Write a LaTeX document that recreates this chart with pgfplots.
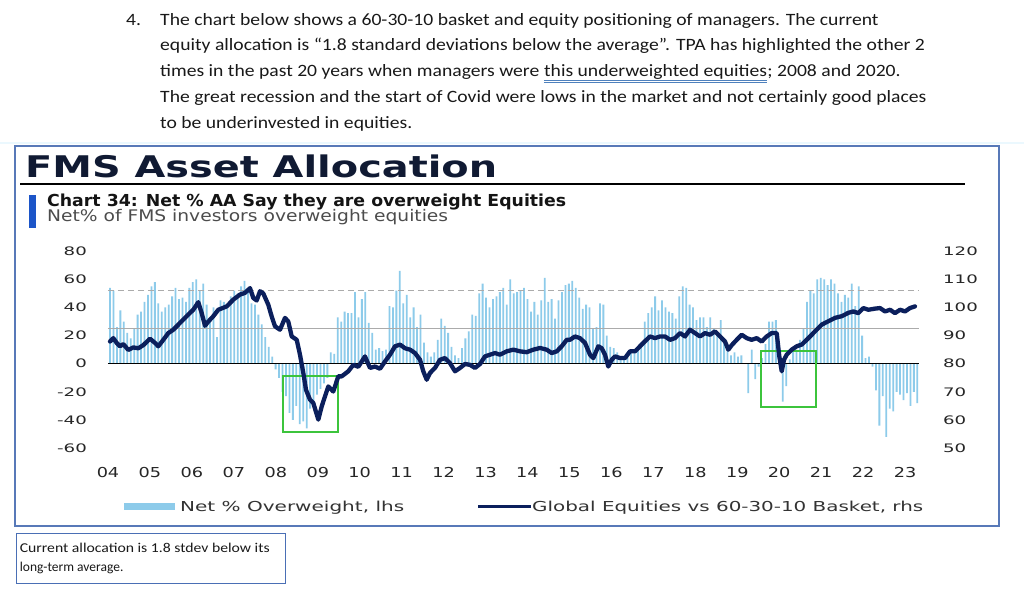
\documentclass[border=0pt]{standalone}
\usepackage{pgfplots}
\pgfplotsset{compat=1.18}
\usepackage{pgfplotstable}
\usepackage{graphicx}
\usepackage{fontspec}
\setmainfont{Carlito}
\newfontfamily\dv{DejaVu Sans}
\definecolor{barblue}{HTML}{8DCBEA}
\definecolor{linenavy}{HTML}{0B1F5C}
\definecolor{boxgreen}{HTML}{3CC43C}
\definecolor{boxblue}{HTML}{5879B8}
\definecolor{capblue}{HTML}{4A6FB5}
\definecolor{ulblue}{HTML}{4F81BD}
\definecolor{accentblue}{HTML}{1C55C8}
\definecolor{titlenavy}{HTML}{101A33}
\definecolor{ticklab}{HTML}{262626}
\definecolor{refgray}{HTML}{ABABAB}
\newcommand{\tl}[1]{\scalebox{1.55}[1]{#1}}
\newcommand{\xl}[1]{\scalebox{1.29}[1]{#1}}
\newcommand{\ps}[1]{\scalebox{1.135}[1]{#1}}

\pgfplotstableread{
m v
0 54
1 52
2 26
3 38
4 30
5 22
6 18
7 25
8 35
9 37
10 44
11 49
12 55
13 58
14 43
15 37
16 40
17 42
18 48
19 54
20 46
21 47
22 44
23 54
24 58
25 60
26 52
27 57
28 42
29 30
30 40
31 19
32 45
33 44
34 41
35 48
36 52
37 50
38 55
39 59
40 52
41 43
42 42
43 35
44 28
45 19
46 12
47 5
48 -4
49 -10
50 -20
51 -23
52 -35
53 -40
54 -30
55 -43
56 -41
57 -46
58 -32
59 -28
60 -22
61 -18
62 -14
63 -10
64 8
65 7
66 33
67 30
68 37
69 36
70 36
71 51
72 33
73 46
74 51
75 29
76 22
77 10
78 11
79 9
80 10
81 41
82 40
83 52
84 66
85 43
86 49
87 33
88 40
89 26
90 35
91 15
92 8
93 5
94 8
95 17
96 32
97 27
98 22
99 12
100 6
101 4
102 11
103 18
104 23
105 35
106 34
107 50
108 57
109 47
110 40
111 46
112 48
113 51
114 54
115 42
116 60
117 50
118 51
119 52
120 54
121 46
122 37
123 44
124 35
125 45
126 61
127 44
128 46
129 32
130 45
131 51
132 56
133 57
134 59
135 54
136 47
137 39
138 42
139 40
140 25
141 26
142 43
143 42
144 20
145 12
146 11
147 8
148 5
149 5
150 6
151 10
152 10
153 10
154 15
155 30
156 36
157 40
158 48
159 38
160 45
161 40
162 37
163 36
164 32
165 48
166 55
167 54
168 42
169 40
170 31
171 33
172 33
173 26
174 33
175 25
176 21
177 31
178 17
179 12
180 6
181 8
182 5
183 6
184 0
185 -21
186 10
187 -11
188 -2
189 4
190 14
191 30
192 30
193 31
194 8
195 -27
196 -16
197 3
198 10
199 10
200 17
201 25
202 44
203 52
204 50
205 60
206 61
207 60
208 56
209 60
210 57
211 50
212 44
213 49
214 47
215 57
216 41
217 55
218 20
219 4
220 5
221 -2
222 -19
223 -44
224 -23
225 -52
226 -32
227 -34
228 -20
229 -22
230 -26
231 -21
232 -30
233 -20
234 -28
}\bars

\pgfplotstableread{
m r
0 87.9
0.96 89.1
1.94 87.4
2.9 86.2
3.86 87
5.3 84.9
6.75 85.8
8.2 85.5
9.65 86.6
11.59 88.9
13.04 87.4
14 86.2
15.45 88.5
16.9 90.9
18.35 92.1
19.8 93.9
21.25 95.7
22.7 97.5
24.14 99.2
25.59 101.9
26.58 98
27.54 93.5
28.49 95
29.94 96.9
31.39 99.2
33.83 100.4
35.74 102.8
37.68 104.6
39.13 105.2
40.58 106.9
41.54 103.4
42.52 102.5
43.48 105.8
44.43 105
45.88 101
46.87 96.8
47.83 93.3
49.28 92.1
50.72 96.3
51.68 95
52.67 89.7
54.12 88.5
55.07 83.2
56.03 76.7
56.81 70.7
57.97 67.2
58.93 66
60.38 60.1
61.36 64.8
62.32 68.4
63.28 71.9
64.72 70.1
66.17 75.5
67.16 75.5
69.07 77.3
70.52 79.6
71.97 78.9
73.91 82.6
75.36 78.5
76.81 79
78.26 78.2
79.71 80.8
81.16 83.2
82.61 86.2
84.06 86.8
85.51 85.5
86.96 85
88.41 83.8
89.86 81.4
90.81 77.3
91.8 74.3
92.75 76.7
94.2 78.5
95.65 81.4
97.1 82
98.55 80.2
100 77.3
101.45 78.5
102.9 79.9
104.35 79.6
105.8 78.5
107.25 79.9
108.7 82.6
110.14 83.2
111.59 83.8
113.04 83.2
114.99 84.4
116.9 85
118.84 84.4
120.78 84.1
122.7 85
124.64 85.6
126.58 85
128.03 83.8
129.48 84.4
130.93 86.2
132.38 88.5
133.33 88.5
134.78 89.7
136.23 89.1
137.68 87.4
139.13 83.2
140.09 82
141.54 86.2
142.52 85.5
143.48 83.2
144.43 79
145.42 81.4
146.38 82.6
147.83 82
149.28 82
150.72 84.4
152.17 84.4
153.62 86.2
155.07 88
156.52 89.7
157.97 89.1
159.42 89.7
160.87 89.7
162.32 88.5
163.77 89.1
165.22 90.9
166.67 89.7
168.12 92.1
169.57 90.9
171.01 89.7
172.46 90.9
173.91 90.3
175.36 91.5
176.81 89.7
178.26 87.9
179.22 85
180.2 86.6
181.65 88.5
183.1 90.3
184.55 89.1
186 88.5
187.45 89.1
188.9 87.9
190.35 89.7
191.8 90.9
193.25 90.9
194 82.6
194.7 77.3
195.36 81.4
196.14 83.2
197.59 85
199.04 86.2
200.49 86.8
201.94 88.5
203.39 90.3
204.84 92.1
206.29 93.9
208.2 95.1
210.14 96.3
212.09 96.9
214 98.1
215.45 98.6
216.9 98
218.35 99.8
219.8 99.2
221.74 99.6
223.19 99.8
224.64 98.6
226.09 99.2
227.54 98
228.99 99.2
230.43 98.6
231.88 99.8
233.33 100.4
}\eqline

\begin{document}
\begin{tikzpicture}[x=1pt,y=1pt]
\useasboundingbox (0,0) rectangle (1024,590);
\fill[white] (0,0) rectangle (1024,590);

% paragraph
\begin{scope}[every node/.style={inner sep=0pt, anchor=base west, font=\fontsize{17.3}{20}\selectfont, text=black!90}]
\node at (126,590-26) {\ps{4.}};
\node at (160,590-26) {\ps{The chart below shows a 60-30-10 basket and equity positioning of managers. The current}};
\node at (160,590-50.5) {\ps{equity allocation is “1.8 standard deviations below the average”. TPA has highlighted the other 2}};
\node (a) at (160,590-76.5) {\ps{times in the past 20 years when managers were}};
\node (b) at ([xshift=4.5pt]a.base east) {\ps{this underweighted equities}};
\node (c) at (b.base east) {\ps{; 2008 and 2020.}};
\node at (160,590-102.5) {\ps{The great recession and the start of Covid were lows in the market and not certainly good places}};
\node at (160,590-128.3) {\ps{to be underinvested in equities.}};
\end{scope}
\draw[ulblue, line width=0.7pt] ([yshift=-3.6pt]b.base west) -- ([yshift=-3.6pt]b.base east);
\draw[ulblue, line width=0.7pt] ([yshift=-5.6pt]b.base west) -- ([yshift=-5.6pt]b.base east);

\draw[cyan!8, line width=1.5pt] (0,590-143) -- (1024,590-143);

% chart frame
\draw[boxblue, line width=1.2pt] (15,590-146) rectangle (999,590-526);
\node[anchor=base west, inner sep=0pt, text=titlenavy] at (25,590-177)
  {\resizebox{472pt}{\height}{\dv\bfseries\fontsize{29.8}{30}\selectfont FMS Asset Allocation}};
\draw[black, line width=2pt] (20,590-184) -- (965,590-184);
\fill[accentblue] (29,590-195) rectangle (36,590-228);
\node[anchor=base west, inner sep=0pt, text=black!92] at (47,590-206.7)
  {\resizebox{519pt}{\height}{\dv\bfseries\fontsize{16.5}{18}\selectfont Chart 34: Net \% AA Say they are overweight Equities}};
\node[anchor=base west, inner sep=0pt, text=black!70] at (47,590-221.7)
  {\resizebox{401pt}{\height}{\dv\fontsize{16}{18}\selectfont Net\% of FMS investors overweight equities}};

\begin{axis}[
  at={(103.1pt,142pt)}, anchor=south west,
  scale only axis, width=821.1pt, height=196.7pt,
  xmin=-2, xmax=236, ymin=-60, ymax=80,
  axis line style={draw=none},
  major tick length=0pt,
  ytick={-60,-40,-20,0,20,40,60,80},
  yticklabels={\tl{-60},\tl{-40},\tl{-20},\tl{0},\tl{20},\tl{40},\tl{60},\tl{80}},
  yticklabel style={font=\dv\fontsize{11.7}{12}\selectfont, text=ticklab, anchor=east, inner sep=0pt, xshift=-16.1pt},
  xtick={-0.58,11.58,23.74,35.90,48.06,60.22,72.38,84.54,96.70,108.86,121.01,133.17,145.33,157.49,169.65,181.81,193.97,206.13,218.29,230.45},
  xticklabels={\xl{04},\xl{05},\xl{06},\xl{07},\xl{08},\xl{09},\xl{10},\xl{11},\xl{12},\xl{13},\xl{14},\xl{15},\xl{16},\xl{17},\xl{18},\xl{19},\xl{20},\xl{21},\xl{22},\xl{23}},
  xticklabel style={font=\dv\fontsize{13.7}{14}\selectfont, text=ticklab, anchor=base, inner sep=0pt, yshift=-29.7pt},
]
\addplot[ybar, bar width=1.8pt, fill=barblue, draw=none] table[x=m,y=v] {\bars};
\addplot[refgray, line width=1pt] coordinates {(-0.6,25) (234.6,25)};
\addplot[refgray, line width=1pt, dash pattern=on 6pt off 4pt] coordinates {(-0.6,52) (234.6,52)};
\addplot[black, line width=1.4pt] coordinates {(-0.6,0) (234.6,0)};
\draw[boxgreen, line width=2pt] (axis cs:50.06,-9) rectangle (axis cs:66.17,-48.6);
\draw[boxgreen, line width=2pt] (axis cs:188.7,8.75) rectangle (axis cs:204.6,-30.8);
\end{axis}

\begin{axis}[
  at={(103.1pt,142pt)}, anchor=south west,
  scale only axis, width=821.1pt, height=196.7pt,
  xmin=-2, xmax=236, ymin=50, ymax=120,
  axis line style={draw=none},
  major tick length=0pt,
  xtick=\empty,
  yticklabel pos=right,
  ytick={50,60,70,80,90,100,110,120},
  yticklabels={\tl{50},\tl{60},\tl{70},\tl{80},\tl{90},\tl{100},\tl{110},\tl{120}},
  yticklabel style={font=\dv\fontsize{11.7}{12}\selectfont, text=ticklab, anchor=west, inner sep=0pt, xshift=18.8pt},
]
\addplot[linenavy, line width=4.3pt, line join=round, line cap=round] table[x=m,y=r] {\eqline};
\end{axis}

% legend
\fill[barblue] (124,590-502.7) rectangle (175,590-510.3);
\node[anchor=base west, inner sep=0pt, text=black!80] at (180,590-511.7)
  {\resizebox{224pt}{\height}{\dv\fontsize{13.7}{15}\selectfont Net \% Overweight, lhs}};
\draw[linenavy, line width=3pt] (478,590-506.5) -- (531,590-506.5);
\node[anchor=base west, inner sep=0pt, text=black!80] at (532,590-511.7)
  {\resizebox{391pt}{\height}{\dv\fontsize{13.7}{15}\selectfont Global Equities vs 60-30-10 Basket, rhs}};

% caption box
\draw[capblue, line width=1pt] (16,590-533) rectangle (285,590-583);
\node[anchor=base west, inner sep=0pt, text=black!90] at (19.6,590-552.5)
  {\resizebox{250pt}{\height}{\fontsize{13.5}{15}\selectfont Current allocation is 1.8 stdev below its}};
\node[anchor=base west, inner sep=0pt, text=black!90] at (19.6,590-571.5)
  {\fontsize{13.5}{15}\selectfont long-term average.};
\end{tikzpicture}
\end{document}
